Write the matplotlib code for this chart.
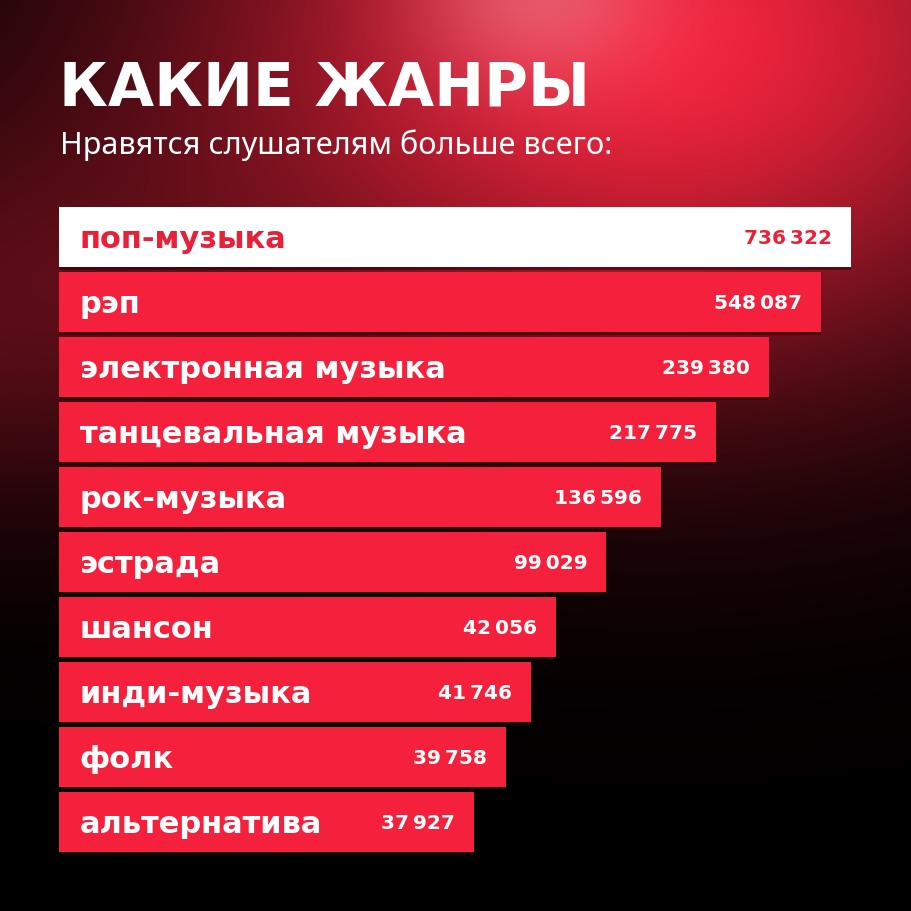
import numpy as np
import matplotlib
matplotlib.use("Agg")
import matplotlib.pyplot as plt

# ---- data ----
genres = ["поп-музыка", "рэп", "электронная музыка", "танцевальная музыка",
          "рок-музыка", "эстрада", "шансон", "инди-музыка", "фолк", "альтернатива"]
listeners = [736322, 548087, 239380, 217775, 136596, 99029, 42056, 41746, 39758, 37927]
# decorative (rank-based) bar lengths as shown in the infographic, % of the longest bar
display_length = [100, 96.2, 89.6, 83.0, 76.0, 69.1, 62.8, 59.6, 56.4, 52.4]

title = "КАКИЕ ЖАНРЫ"
subtitle = "Нравятся слушателям больше всего:"

W = H = 911
fig = plt.figure(figsize=(W / 100, H / 100), dpi=100)

# ---- background gradient ----
yy, xx = np.mgrid[0:H, 0:W].astype(float)
red = np.array([0.95, 0.14, 0.24])
main = np.exp(-(((xx - 660) / 480) ** 2 + ((yy - 40) / 340) ** 2))
glow = 0.30 * np.exp(-(((xx + 50) / 320) ** 2 + ((yy - 320) / 200) ** 2))
k = np.clip(main + glow, 0, 1)
img = k[..., None] * red[None, None, :]
# soft pinkish highlight near the top
h = 0.55 * np.exp(-(((xx - 540) / 120) ** 2 + ((yy + 10) / 95) ** 2))
img = img * (1 - h[..., None]) + h[..., None] * np.array([0.93, 0.52, 0.58])
img = np.clip(img, 0, 1)

bg = fig.add_axes([0, 0, 1, 1])
bg.imshow(img, extent=[0, W, H, 0], aspect="auto", interpolation="bilinear")
bg.set_xlim(0, W)
bg.set_ylim(H, 0)
bg.axis("off")

bg.text(59, 106, title, color="white", fontsize=43, fontweight="bold",
        family="DejaVu Sans", va="baseline", ha="left")
bg.text(60, 154, subtitle, color="white", fontsize=22, family="Noto Sans",
        va="baseline", ha="left")

# ---- bars ----
ax = fig.add_axes([59 / W, 1 - 854.5 / H, 792 / W, 650 / H])
ax.patch.set_alpha(0)
n = len(genres)
ypos = np.arange(n)
colors = ["white"] + ["#F5213C"] * (n - 1)
ax.barh(ypos, display_length, height=0.923, color=colors, zorder=3)
# subtle shadow under bars
ax.barh(ypos + 0.04, display_length, height=0.923, color="#2a0006", alpha=0.5, zorder=2)
ax.set_xlim(0, 100)
ax.set_ylim(n - 0.5, -0.5)
ax.axis("off")

for i, (g, v, L) in enumerate(zip(genres, listeners, display_length)):
    tc = "#E8213A" if i == 0 else "white"
    ax.text(2.6, i + 0.04, g, color=tc, fontsize=22, fontweight="bold",
            family="DejaVu Sans", va="center", ha="left", zorder=4)
    s = f"{v:,}".replace(",", "\u2009")
    ax.text(L - 2.4, i + 0.02, s, color=tc, fontsize=14.5, fontweight="bold",
            family="DejaVu Sans", va="center", ha="right", zorder=4)

fig.savefig("out.png", dpi=100)
